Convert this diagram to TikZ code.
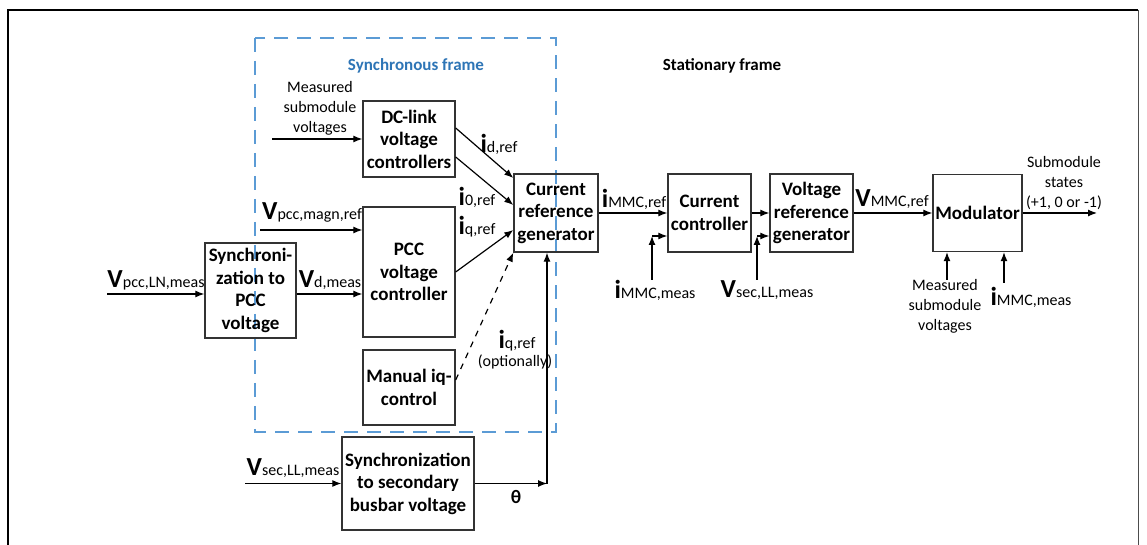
\documentclass[tikz,border=0pt]{standalone}
\usepackage{fontspec}
\setmainfont{Carlito}
\usepackage{tikz}
\usetikzlibrary{arrows.meta}
\definecolor{frameblue}{RGB}{46,117,182}
\definecolor{dashblue}{RGB}{91,155,213}
\newcommand{\sgl}[2]{{\fontsize{13}{13}\selectfont\bfseries #1}{\fontsize{8}{10}\selectfont #2}}

\begin{document}
\begin{tikzpicture}[x=0.5pt, y=-0.5pt, >={Latex[length=4.5pt,width=3.5pt]}, line width=0.6pt,
	blk/.style={draw=black!80, line width=0.7pt, align=center, inner sep=0pt, font=\fontsize{9.5}{11.25}\selectfont\bfseries},
	txt/.style={align=center, inner sep=0pt, font=\fontsize{8}{10}\selectfont},
	lbl/.style={inner sep=0pt}]
	\useasboundingbox (0,0) rectangle (1147,545);
	\draw [line width=1pt] (8,545) -- (8,10) -- (1138,10);
	\draw [black!70, line width=0.5pt] (1138,10) -- (1138,545);
	\draw [dashblue, dash pattern=on 7pt off 4.5pt] (255,38) rectangle (556,432);
	\node [text=frameblue, font=\fontsize{8.5}{10}\selectfont\bfseries] (synctitle) at (416,66) {Synchronous frame};
	\node [font=\fontsize{8.5}{10}\selectfont\bfseries] (stattitle) at (722,66) {Stationary frame};

	\node [blk, minimum width=46pt, minimum height=38pt] (dc) at (409,139) {DC-link\\voltage\\controllers};
	\node [blk, minimum width=46pt, minimum height=65pt] (pcc) at (409,272) {PCC\\voltage\\controller};
	\node [blk, minimum width=46pt, minimum height=37.5pt] (man) at (409,387.5) {Manual iq-\\control};
	\node [blk, minimum width=45.5pt, minimum height=47.5pt] (spcc) at (250.5,290.5) {Synchroni-\\zation to\\PCC\\voltage};
	\node [blk, minimum width=66pt, minimum height=46.5pt] (ssec) at (408,483.5) {Synchronization\\to secondary\\busbar voltage};
	\node [blk, minimum width=42pt, minimum height=39pt] (crg) at (556,213) {Current\\reference\\generator};
	\node [blk, minimum width=41.5pt, minimum height=39pt] (cc) at (709.5,213) {Current\\controller};
	\node [blk, minimum width=41.5pt, minimum height=39pt] (vrg) at (811.5,213) {Voltage\\reference\\generator};
	\node [blk, minimum width=44.5pt, minimum height=38.5pt] (mod) at (977.5,213) {Modulator};

	\coordinate (msin) at (272,139);
	\coordinate (vmag) at (260,230);
	\coordinate (vln) at (107,294);
	\coordinate (vsec) at (245,483.5);
	\coordinate (thc) at (547,483.5);
	\coordinate (imm) at (652,280);
	\coordinate (immc) at (652,236);
	\coordinate (vsl) at (757,280);
	\coordinate (vslc) at (757,236);
	\coordinate (msm) at (947,280);
	\coordinate (immb) at (1004,283);
	\coordinate (sout) at (1097,213);

	\draw [->] (msin) -- (dc.west);
	\draw [->] (vmag) -- (vmag -| pcc.west);
	\draw [->] (vln) -- (vln -| spcc.west);
	\draw [->] ([yshift=-1.75pt]spcc.east) -- ([yshift=-1.75pt]spcc.east -| pcc.west);
	\draw [->] ([yshift=5.5pt]dc.east) -- ([yshift=17.5pt]crg.west);
	\draw [->] ([yshift=-9pt]dc.east) -- ([yshift=4pt]crg.west);
	\draw [->] (pcc.east) -- ([yshift=-8.5pt]crg.west);
	\draw [->, dashed] ([yshift=3.75pt]man.east) -- (crg.south west);
	\draw [->] (vsec) -- (ssec.west);
	\draw [->] (ssec.east) -- (thc);
	\draw [->] (thc) -- (thc |- crg.south);
	\draw [->] (crg.east) -- (cc.west);
	\draw [->] (imm) -- (immc);
	\draw [->] (immc) -- (immc -| cc.west);
	\draw [->] (cc.east) -- (vrg.west);
	\draw [->] (vsl) -- (vslc);
	\draw [->] (vslc) -- (vslc -| vrg.west);
	\draw [->] (vrg.east) -- (mod.west);
	\draw [->] (mod.east) -- (sout);
	\draw [->] (msm) -- (msm |- mod.south);
	\draw [->] (immb) -- (immb |- mod.south);

	\node [txt] (msleft) at (320,108) {Measured\\submodule\\voltages};
	\node [lbl] (vmagl) at (312,212) {\sgl{V}{pcc,magn,ref}};
	\node [lbl] (vlnl) at (156,280) {\sgl{V}{pcc,LN,meas}};
	\node [lbl] (vdl) at (330,280) {\sgl{V}{d,meas}};
	\node [lbl] (idl) at (499,144) {\sgl{i}{d,ref}};
	\node [lbl] (i0l) at (477,197) {\sgl{i}{0,ref}};
	\node [lbl] (iql) at (477,227) {\sgl{i}{q,ref}};
	\node [lbl] (iqopt) at (517,341) {\sgl{i}{q,ref}};
	\node [txt] (optl) at (515,362) {(optionally)};
	\node [lbl] (vsecl) at (293,468) {\sgl{V}{sec,LL,meas}};
	\node [font=\fontsize{9.5}{10}\selectfont\bfseries] (thl) at (516,497) {θ};
	\node [lbl] (immrefl) at (634,199) {\sgl{i}{MMC,ref}};
	\node [lbl] (immmeasl) at (655,290) {\sgl{i}{MMC,meas}};
	\node [lbl] (vsllr) at (767,290) {\sgl{V}{sec,LL,meas}};
	\node [lbl] (vmmcl) at (892,199) {\sgl{V}{MMC,ref}};
	\node [txt] (statesl) at (1064,183) {Submodule\\states\\(+1, 0 or -1)};
	\node [txt] (msright) at (945,306) {Measured\\submodule\\voltages};
	\node [lbl] (immbl) at (1031,297) {\sgl{i}{MMC,meas}};
\end{tikzpicture}
\end{document}
